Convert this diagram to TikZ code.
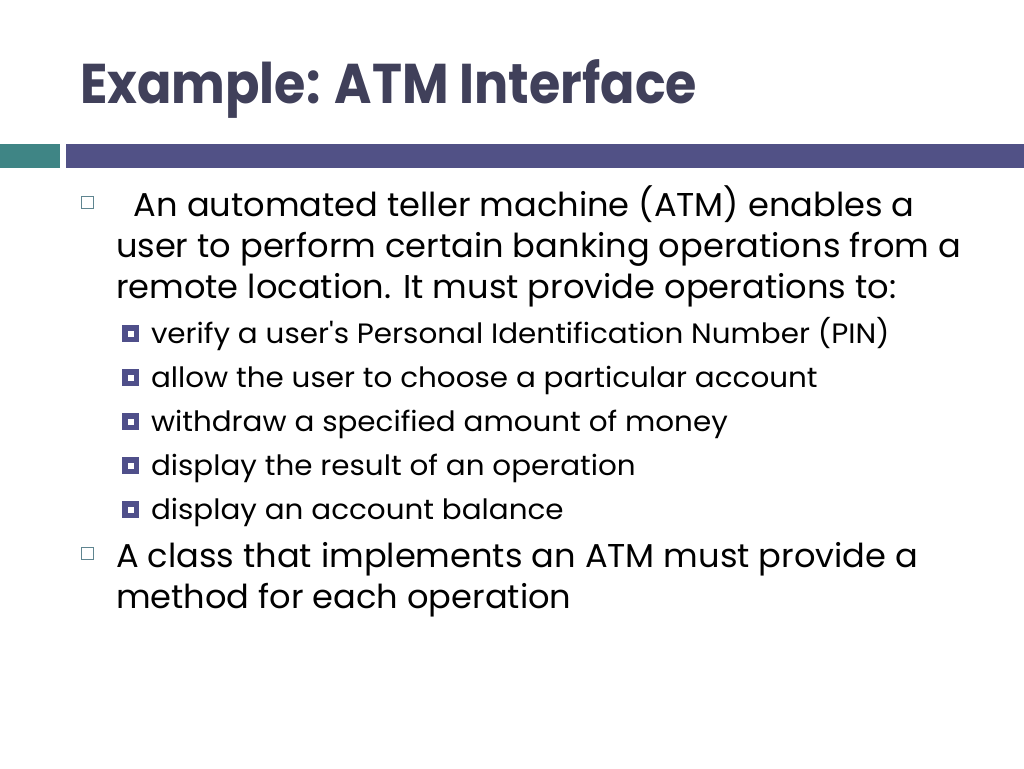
\documentclass[tikz,border=0pt]{standalone}
\usepackage{fontspec}
\setmainfont{Poppins}
\definecolor{titlecol}{HTML}{40405A}
\definecolor{tealbar}{HTML}{3F8585}
\definecolor{purplebar}{HTML}{515186}
\definecolor{bulone}{HTML}{5F8590}
\definecolor{bultwo}{HTML}{4F4F8A}
\tikzset{
  txt/.style={anchor=base west, inner sep=0pt, outer sep=0pt},
  lone/.style={txt, font=\fontsize{33}{33}\selectfont},
  ltwo/.style={txt, font=\fontsize{28}{28}\selectfont},
}
\newcommand{\sxa}[1]{\scalebox{1.02}[1]{#1}}
\newcommand{\sxb}[1]{\scalebox{1.05}[1]{#1}}
\begin{document}
\begin{tikzpicture}[x=1pt,y=1pt]
\useasboundingbox (0,0) rectangle (1024,-768);
\fill[white] (0,0) rectangle (1024,-768);
% title
\node[txt, text=titlecol, font=\fontsize{56}{56}\bfseries\selectfont] (title) at (80,-103) {\scalebox{0.906}[1]{Example: ATM Interface}};
% bars
\fill[tealbar] (0,-144) rectangle (60,-168);
\fill[purplebar] (66,-144) rectangle (1024,-168);
% level-1 bullets
\draw[bulone, line width=1.3pt] (81.5,-196.5) rectangle (93.5,-208.5);
\draw[bulone, line width=1.3pt] (81.5,-547.5) rectangle (93.5,-559.5);
% paragraph 1
\node[lone] (p1a) at (125,-216) {\sxa{\ An automated teller machine (ATM) enables a}};
\node[lone] (p1b) at (116,-257) {\sxa{user to perform certain banking operations from a}};
\node[lone] (p1c) at (116,-298) {\sxa{remote location. It must provide operations to:}};
% level-2 items
\foreach \y/\t [count=\i] in {343/{verify a user\textquotesingle s Personal Identification Number (PIN)},
  387/{allow the user to choose a particular account},
  431/{withdraw a specified amount of money},
  475/{display the result of an operation},
  519/{display an account balance}}{
  \fill[bultwo] (122,-\y+1) rectangle (139,-\y+18);
  \fill[white] (127.5,-\y+6.5) rectangle (133.5,-\y+12.5);
  \node[ltwo] (s\i) at (151,-\y) {\sxb{\t}};
}
% paragraph 2
\node[lone] (p2a) at (116,-567) {\sxa{A class that implements an ATM must provide a}};
\node[lone] (p2b) at (116,-608) {\sxa{method for each operation}};
\end{tikzpicture}
\end{document}
